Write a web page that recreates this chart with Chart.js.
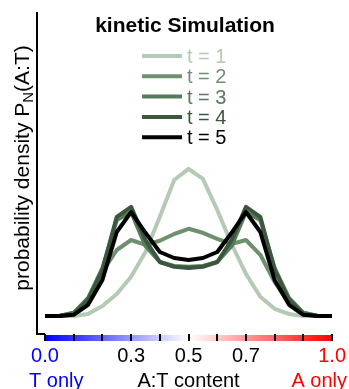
<!DOCTYPE html>
<html>
<head>
<meta charset="utf-8">
<script src="https://cdn.jsdelivr.net/npm/chart.js@4.4.1/dist/chart.umd.min.js"></script>
<style>
    html, body { margin: 0; padding: 0; background: #fff; }
</style>
</head>
<body>
<canvas id="kinChart" width="349" height="389"></canvas>
<script>
// A:T content (x positions of the simulated distribution)
const atContent = [0, 0.05, 0.1, 0.15, 0.2, 0.25, 0.3, 0.35, 0.4, 0.45, 0.5,
                   0.55, 0.6, 0.65, 0.7, 0.75, 0.8, 0.85, 0.9, 0.95, 1];

// probability density P_N(A:T) for each time step
const densT1 = [0, 0, 0, 0.05, 0.25, 0.55, 0.98, 1.6, 2.48, 3.4, 3.68,
                3.43, 2.65, 1.8, 1.05, 0.48, 0.18, 0.05, 0, 0, 0];
const densT2 = [0, 0, 0.08, 0.4, 1.1, 1.65, 1.9, 1.78, 1.88, 2.05, 2.18,
                2.08, 1.93, 1.8, 1.9, 1.53, 0.85, 0.33, 0.08, 0, 0];
const densT3 = [0, 0, 0.08, 0.45, 1.2, 2.4, 2.6, 1.75, 1.35, 1.25, 1.23,
                1.25, 1.35, 1.75, 2.6, 2.4, 1.2, 0.45, 0.08, 0, 0];
const densT4 = [0, 0, 0.05, 0.4, 1.15, 2.48, 2.73, 1.9, 1.35, 1.23, 1.2,
                1.23, 1.35, 1.9, 2.73, 2.48, 1.15, 0.4, 0.05, 0, 0];
const densT5 = [0, 0, 0.03, 0.28, 0.9, 2.1, 2.6, 2.08, 1.6, 1.45, 1.4,
                1.45, 1.6, 2.08, 2.6, 2.1, 0.9, 0.28, 0.03, 0, 0];

const seriesNames = ['t = 1', 't = 2', 't = 3', 't = 4', 't = 5'];
const seriesColors = ['#b4cab4', '#6e906f', '#587a5a', '#3b573d', '#000000'];

// x axis ticks and which of them carry a label
const tickValues = [0, 0.1, 0.2, 0.3, 0.4, 0.5, 0.6, 0.7, 0.8, 0.9, 1];
const labeledTicks = [0, 0.3, 0.5, 0.7, 1];
const labeledText = ['0.0', '0.3', '0.5', '0.7', '1.0'];

const FONT = "'Liberation Sans', Arial, sans-serif";

const allSeries = [densT1, densT2, densT3, densT4, densT5];
const datasets = allSeries.map((vals, i) => ({
    label: seriesNames[i],
    data: atContent.map((x, j) => ({ x: x, y: vals[j] })),
    borderColor: seriesColors[i],
    backgroundColor: seriesColors[i],
    borderWidth: 4,
    pointRadius: 0,
    tension: 0,
    borderJoinStyle: 'round',
    fill: false,
    order: allSeries.length - i // t = 5 ends up on top
}));

function labelFor(v) {
    const k = labeledTicks.findIndex(t => Math.abs(t - v) < 1e-6);
    return k < 0 ? '' : labeledText[k];
}

function tickColor(v) {
    if (Math.abs(v) < 1e-6) return '#0000ff';
    if (Math.abs(v - 1) < 1e-6) return '#ff0000';
    return '#000000';
}

const decorations = {
    id: 'decorations',
    beforeDraw(chart) {
        const { ctx, chartArea } = chart;
        const xs = chart.scales.x;
        const x0 = xs.getPixelForValue(0);
        const x1 = xs.getPixelForValue(1);
        ctx.save();
        // blue -> white -> red colour bar under the axis
        const grad = ctx.createLinearGradient(x0, 0, x1, 0);
        grad.addColorStop(0, '#0000ff');
        grad.addColorStop(0.5, '#ffffff');
        grad.addColorStop(1, '#ff0000');
        ctx.fillStyle = grad;
        ctx.fillRect(x0, chartArea.bottom + 1, x1 - x0, 6);
        // short spine piece between y axis and the bar
        ctx.strokeStyle = '#000';
        ctx.lineWidth = 2;
        ctx.beginPath();
        ctx.moveTo(chartArea.left - 1, chartArea.bottom);
        ctx.lineTo(x0, chartArea.bottom);
        ctx.stroke();
        ctx.restore();
    },
    afterDraw(chart) {
        const { ctx } = chart;
        const xs = chart.scales.x;
        ctx.save();

        // title
        ctx.fillStyle = '#000';
        ctx.font = 'bold 21px ' + FONT;
        ctx.textAlign = 'center';
        ctx.textBaseline = 'alphabetic';
        ctx.fillText('kinetic Simulation', 185, 32);

        // legend, one row per time step
        ctx.textAlign = 'left';
        ctx.font = '20px ' + FONT;
        chart.data.datasets.forEach((ds, i) => {
            const y = 56 + i * 20.3;
            ctx.strokeStyle = ds.borderColor;
            ctx.lineWidth = 4;
            ctx.beginPath();
            ctx.moveTo(142, y);
            ctx.lineTo(182, y);
            ctx.stroke();
            ctx.fillStyle = ds.borderColor;
            ctx.fillText(ds.label, 187, y + 7);
        });

        // second row under the ticks
        const rowY = 386.5;
        ctx.fillStyle = '#0000ff';
        ctx.textAlign = 'left';
        ctx.fillText('T only', 29, rowY);
        ctx.fillStyle = '#000';
        ctx.textAlign = 'center';
        ctx.fillText('A:T content', xs.getPixelForValue(0.5), rowY);
        ctx.fillStyle = '#ff0000';
        ctx.textAlign = 'right';
        ctx.fillText('A only', 347, rowY);

        // y axis title with subscript N
        const bigFont = '21px ' + FONT;
        const smallFont = '15px ' + FONT;
        const partA = 'probability density P';
        const partB = 'N';
        const partC = '(A:T)';
        ctx.font = bigFont;
        const wA = ctx.measureText(partA).width;
        const wC = ctx.measureText(partC).width;
        ctx.font = smallFont;
        const wB = ctx.measureText(partB).width;
        const total = wA + wB + wC;
        ctx.translate(29, 168);
        ctx.rotate(-Math.PI / 2);
        ctx.fillStyle = '#000';
        ctx.textAlign = 'left';
        let cx = -total / 2;
        ctx.font = bigFont;
        ctx.fillText(partA, cx, 0);
        cx += wA;
        ctx.font = smallFont;
        ctx.fillText(partB, cx, 4);
        cx += wB;
        ctx.font = bigFont;
        ctx.fillText(partC, cx, 0);

        ctx.restore();
    }
};

const chart = new Chart(document.getElementById('kinChart').getContext('2d'), {
    type: 'line',
    data: { datasets: datasets },
    options: {
        responsive: false,
        animation: false,
        devicePixelRatio: 1,
        layout: { padding: { left: 37, right: 16, top: 13, bottom: 0 } },
        plugins: {
            legend: { display: false },
            title: { display: false },
            tooltip: { enabled: false }
        },
        scales: {
            x: {
                type: 'linear',
                min: -0.0278,
                max: 1,
                afterBuildTicks: s => { s.ticks = tickValues.map(v => ({ value: v })); },
                afterFit: s => { s.height = 55; },
                border: { display: false },
                grid: {
                    display: true,
                    drawOnChartArea: false,
                    drawTicks: true,
                    tickLength: 7,
                    color: '#000',
                    lineWidth: 2
                },
                ticks: {
                    autoSkip: false,
                    maxRotation: 0,
                    padding: 3,
                    font: { family: FONT, size: 20 },
                    color: c => tickColor(c.tick.value),
                    callback: v => labelFor(v)
                }
            },
            y: {
                min: -0.45,
                max: 7.575,
                afterFit: s => { s.width = 0; },
                border: { display: true, color: '#000', width: 2 },
                grid: { display: false, drawTicks: false },
                ticks: { display: false }
            }
        }
    },
    plugins: [decorations]
});
</script>
</body>
</html>
